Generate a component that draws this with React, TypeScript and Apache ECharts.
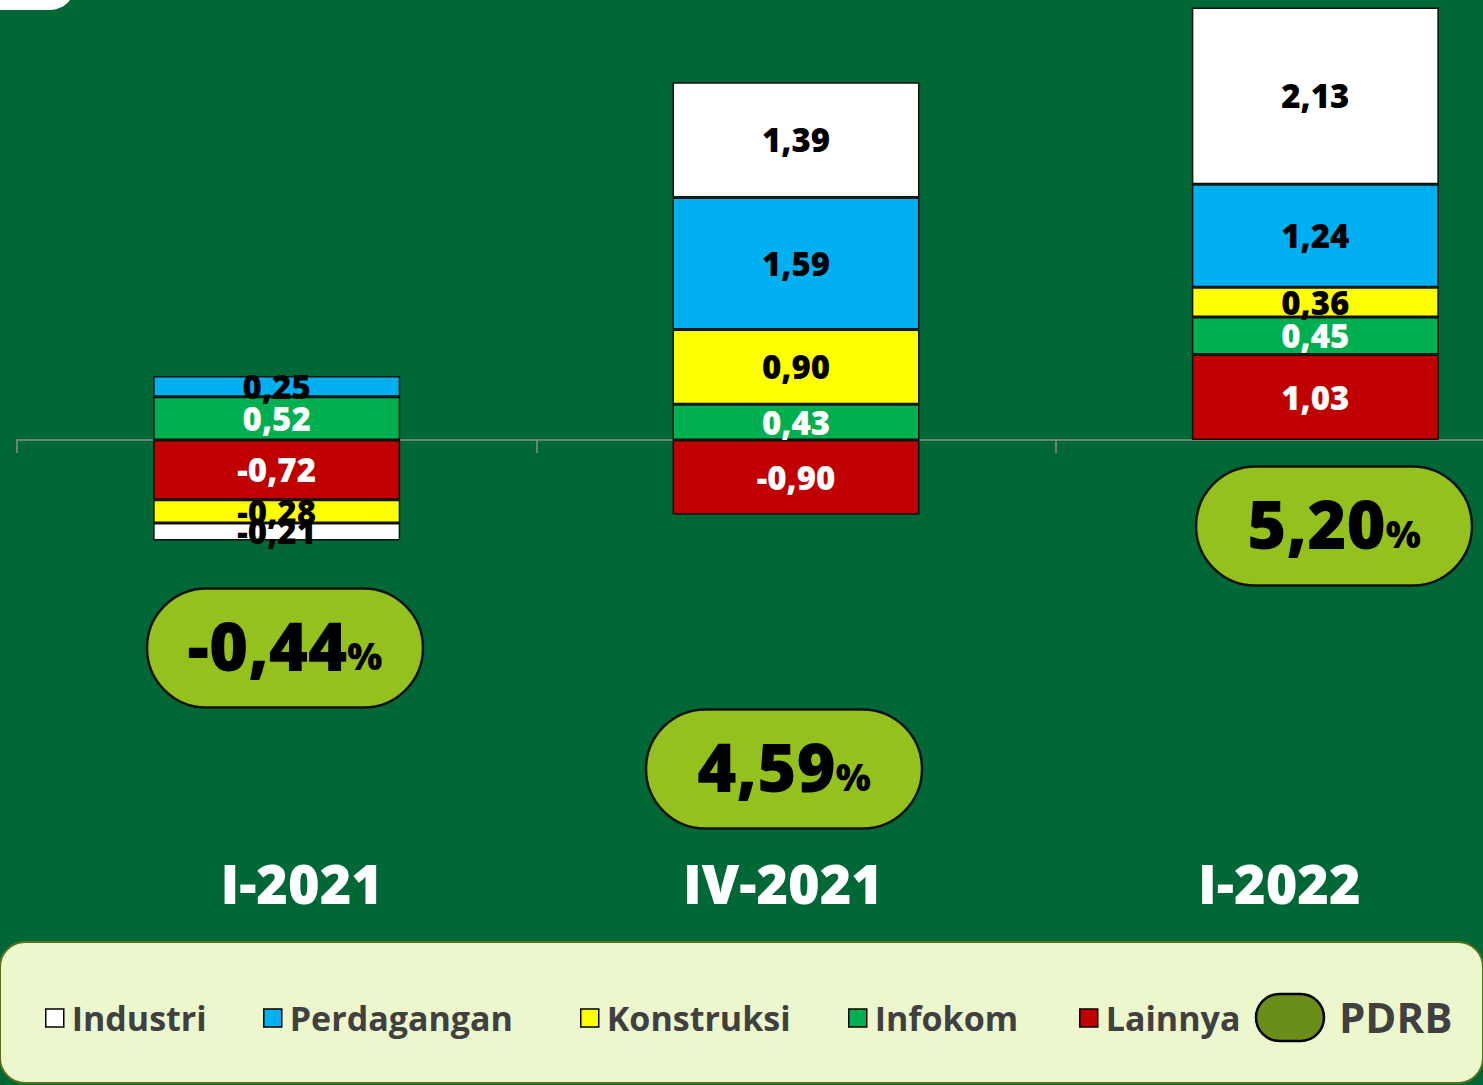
import React, { useEffect, useRef } from "react";
import * as echarts from "echarts";

const categories = ["I-2021", "IV-2021", "I-2022"];
const industri = [-0.21, 1.39, 2.13];
const perdagangan = [0.25, 1.59, 1.24];
const konstruksi = [-0.28, 0.9, 0.36];
const infokom = [0.52, 0.43, 0.45];
const lainnya = [-0.72, -0.9, 1.03];
const pdrb = [-0.44, 4.59, 5.2];

const legendOrder = ["Industri", "Perdagangan", "Konstruksi", "Infokom", "Lainnya"];
const legendLeft = [45, 263, 580, 848, 1079];

// layout of the PDRB pills (centres)
const pillCenters = [
  [285, 648],
  [784, 769],
  [1334, 526],
];
const PILL_W = 276;
const PILL_H = 119;

const FONT = "Open Sans";
const W = 800;

const fmt = (v: number) => v.toFixed(2).replace(".", ",");

export default function App() {
  const ref = useRef<HTMLDivElement>(null);
  useEffect(() => {
    if (!ref.current) return;
    const chart = echarts.init(ref.current, undefined, { renderer: "svg" });

    const seriesDefs = [
      { name: "Lainnya", data: lainnya, color: "#C00000", text: "#FFFFFF" },
      { name: "Infokom", data: infokom, color: "#00B050", text: "#FFFFFF" },
      { name: "Konstruksi", data: konstruksi, color: "#FFFF00", text: "#000000" },
      { name: "Perdagangan", data: perdagangan, color: "#00B0F0", text: "#000000" },
      { name: "Industri", data: industri, color: "#FFFFFF", text: "#000000" },
    ];

    const series = seriesDefs.map((s) => ({
      name: s.name,
      type: "bar",
      stack: "total",
      barWidth: 247,
      data: s.data,
      itemStyle: { color: s.color, borderColor: "#111", borderWidth: 1.5 },
      label: {
        show: true,
        position: "inside",
        formatter: (p: any) => fmt(p.value),
        color: s.text,
        fontFamily: FONT,
        fontWeight: W,
        fontSize: 33,
      },
      z: 3,
    }));

    const labelPad = [
      [0, 0, 0, 50],
      [0, 26, 0, 0],
      [0, 72, 0, 0],
    ];
    const rich: any = {};
    labelPad.forEach((p, i) => {
      rich["c" + i] = {
        padding: p,
        color: "#FFFFFF",
        fontFamily: FONT,
        fontWeight: W,
        fontSize: 54,
      };
    });

    const pillGraphics: any[] = [];
    pdrb.forEach((v, i) => {
      const [cx, cy] = pillCenters[i];
      pillGraphics.push({
        type: "rect",
        z: 10,
        shape: { x: cx - PILL_W / 2, y: cy - PILL_H / 2, width: PILL_W, height: PILL_H, r: PILL_H / 2 },
        style: { fill: "#95C11F", stroke: "#111111", lineWidth: 2.5 },
      });
      pillGraphics.push({
        type: "text",
        z: 11,
        x: cx,
        y: cy - 8,
        style: {
          text: `{v|${fmt(v)}}{p|%}`,
          align: "center",
          verticalAlign: "middle",
          rich: {
            v: { fontFamily: FONT, fontWeight: W, fontSize: 67, fill: "#000", color: "#000", verticalAlign: "bottom", lineHeight: 76 },
            p: { fontFamily: FONT, fontWeight: W, fontSize: 37, fill: "#000", color: "#000", verticalAlign: "bottom", lineHeight: 76, padding: [0, 0, 4, 0] },
          },
        },
      });
    });

    const option: any = {
      animation: false,
      backgroundColor: "#006837",
      grid: { left: 17, top: 0, width: 1558, height: 850, outerBoundsMode: "none", containLabel: false },
      xAxis: {
        type: "category",
        data: categories,
        axisLine: { onZero: true, lineStyle: { color: "#8C8C8C", width: 1.5 } },
        axisTick: { show: true, length: 13, lineStyle: { color: "#8C8C8C", width: 1.5 } },
        axisLabel: {
          margin: 6,
          formatter: (v: string, i: number) => `{c${i}|${v}}`,
          rich,
        },
      },
      yAxis: {
        type: "value",
        show: false,
        min: -4.94,
        max: 5.3,
        splitLine: { show: false },
      },
      legend: legendOrder.map((name, i) => ({
        data: [name],
        left: legendLeft[i],
        top: 1001,
        padding: 0,
        icon: "rect",
        itemWidth: 18,
        itemHeight: 18,
        itemGap: 0,
        selectedMode: false,
        itemStyle: { borderColor: "#000", borderWidth: 1.5 },
        textStyle: {
          fontFamily: FONT,
          fontWeight: 700,
          fontSize: 34,
          color: "#404040",
          padding: [0, 0, 0, 3],
        },
      })),
      graphic: [
        {
          type: "rect",
          z: 0,
          shape: { x: -50, y: -50, width: 125, height: 60, r: 25 },
          style: { fill: "#FFFFFF" },
        },
        {
          type: "rect",
          z: 0,
          shape: { x: 0, y: 942, width: 1483, height: 141, r: 25 },
          style: { fill: "#ECF7CE", stroke: "#55701A", lineWidth: 2 },
        },
        {
          type: "rect",
          z: 5,
          shape: { x: 1256, y: 994, width: 68, height: 47, r: 23.5 },
          style: { fill: "#6B8E1A", stroke: "#000", lineWidth: 2.5 },
        },
        {
          type: "text",
          z: 5,
          x: 1339,
          y: 1016,
          style: {
            text: "PDRB",
            fontFamily: FONT,
            fontWeight: 700,
            fontSize: 42,
            fill: "#404040",
            verticalAlign: "middle",
          },
        },
        ...pillGraphics,
      ],
      series,
    };

    chart.setOption(option);
    return () => chart.dispose();
  }, []);

  return (
    <div
      ref={ref}
      style={{ position: "fixed", left: 0, top: 0, width: 1483, height: 1085 }}
    />
  );
}
